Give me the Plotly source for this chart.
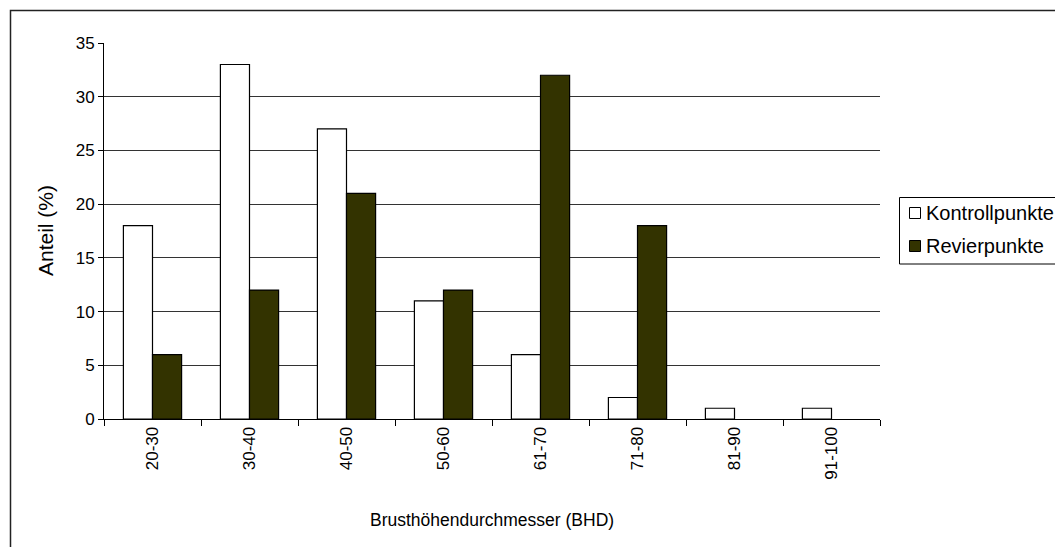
import plotly.graph_objects as go

categories = ["20-30", "30-40", "40-50", "50-60", "61-70", "71-80", "81-90", "91-100"]
kontroll = [18, 33, 27, 11, 6, 2, 1, 1]
revier = [6, 12, 21, 12, 32, 18, 0, 0]
y_ticks = [0, 5, 10, 15, 20, 25, 30, 35]
series_names = ["Kontrollpunkte", "Revierpunkte"]
series_colors = ["white", "#333300"]

W, H = 1055, 547
# pixel positions of the plot area
PL, PR, PT, PB = 104, 880, 43, 419
L, T = PL, PT
R = W - PR
B = H - PB
pw, ph = PR - PL, PB - PT


def px(x):
    return (x - PL) / pw


def py(y):
    return (PB - y) / ph


fam = "Liberation Sans, Arial, sans-serif"
tick_font = dict(family=fam, size=17, color="black")
legend_font = dict(family=fam, size=20, color="black")

fig = go.Figure()
for name, vals, col in zip(series_names, [kontroll, revier], series_colors):
    fig.add_trace(go.Bar(x=categories, y=[v if v else None for v in vals], name=name,
                         marker=dict(color=col, line=dict(color="black", width=1.2))))

shapes = [
    # outer chart border
    dict(type="rect", xref="paper", yref="paper",
         x0=px(10.5), x1=px(1075), y0=py(10.5), y1=py(575),
         line=dict(color="#222222", width=1.5), layer="below"),
    # legend box
    dict(type="rect", xref="paper", yref="paper",
         x0=px(899.5), x1=px(1075), y0=py(197.5), y1=py(264),
         line=dict(color="black", width=1), fillcolor="white", layer="above"),
]
annotations = [
    dict(text="Anteil (%)", x=px(45), y=py(231), xref="paper", yref="paper",
         textangle=-90, showarrow=False, font=dict(family=fam, size=21, color="black"),
         xanchor="center", yanchor="middle"),
    dict(text="Brusthöhendurchmesser (BHD)", x=px(492), y=py(520), xref="paper", yref="paper",
         showarrow=False, font=dict(family=fam, size=17.5, color="black"),
         xanchor="center", yanchor="middle"),
]
for i, (name, col) in enumerate(zip(series_names, series_colors)):
    cy = 213 + i * 33
    shapes.append(dict(type="rect", xref="paper", yref="paper",
                       x0=px(909.5), x1=px(920.5), y0=py(cy - 5.5), y1=py(cy + 5.5),
                       line=dict(color="black", width=1), fillcolor=col, layer="above"))
    annotations.append(dict(text=name, x=px(924), y=py(cy), xref="paper", yref="paper",
                            showarrow=False, font=legend_font,
                            xanchor="left", yanchor="middle"))

fig.update_layout(
    width=W, height=H,
    margin=dict(l=L, r=R, t=T, b=B, pad=0, autoexpand=False),
    paper_bgcolor="white", plot_bgcolor="white",
    font=tick_font,
    barmode="group", bargap=0.4, bargroupgap=0,
    showlegend=False,
    xaxis=dict(type="category", tickson="boundaries", ticks="outside", ticklen=6,
               tickcolor="black", showline=True, linecolor="black", linewidth=1,
               tickangle=-90, showgrid=False, tickfont=tick_font, automargin=False),
    yaxis=dict(range=[0, 35], tickvals=y_ticks, ticks="outside", ticklen=5,
               tickcolor="black", showline=True, linecolor="black", linewidth=1,
               showgrid=True, gridcolor="#333333", gridwidth=1, zeroline=False,
               tickfont=tick_font, automargin=False),
    annotations=annotations,
    shapes=shapes,
)

fig.write_html("out.html", config={"displayModeBar": False},
               post_script="document.body.style.margin='0';")
